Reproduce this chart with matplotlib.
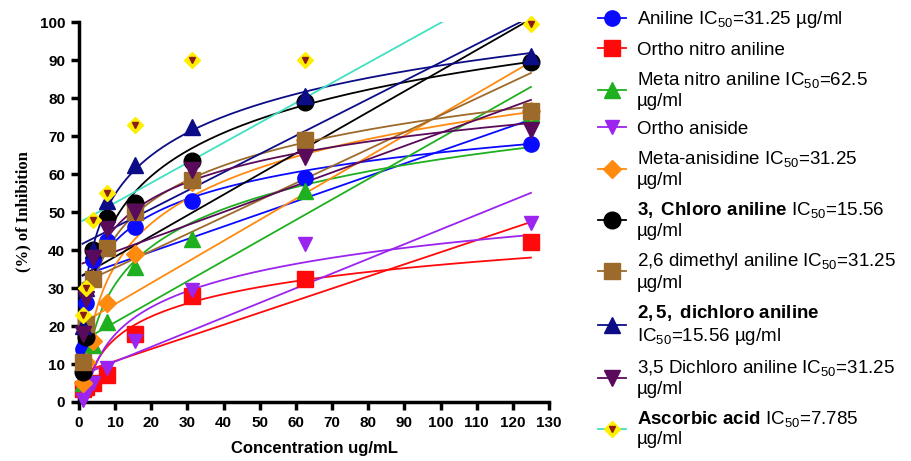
import numpy as np
import matplotlib
matplotlib.use("Agg")
import matplotlib.pyplot as plt
from matplotlib.lines import Line2D

plt.rcParams['font.family'] = 'Liberation Sans'
plt.rcParams['mathtext.fontset'] = 'custom'
plt.rcParams['mathtext.rm'] = 'Liberation Sans'
plt.rcParams['mathtext.bf'] = 'Liberation Sans:bold'
plt.rcParams['mathtext.it'] = 'Liberation Sans:italic'

# concentrations (ug/mL), two-fold dilution series
conc = [0.98, 1.95, 3.9, 7.8, 15.6, 31.25, 62.5, 125]

# % inhibition
aniline = [14, 26, 37.5, 42.5, 46, 53, 59, 68]
ortho_nitro = [3.5, 4, 5, 7, 18, 28, 32.5, 42]
meta_nitro = [5, 8, 15, 21, 35.5, 43, 55.5, 76]
ortho_aniside = [0.5, 2, 5, 9, 16, 29.5, 41.5, 47]
meta_anisidine = [5, 10.5, 16, 26, 39, 58, 69, 76.5]
chloro3 = [8, 17, 40, 48.5, 52.5, 63.5, 79, 89.5]
dimethyl26 = [10.5, 20.5, 32.5, 40.5, 50, 58.5, 69, 76.5]
dichloro25 = [20, 30, 40, 53, 62.5, 72.5, 80.5, 91]
dichloro35 = [18, 27, 38, 45.5, 50, 61, 64.5, 71.5]
ascorbic = [23, 30, 48, 55, 73, 90, 90, 99.5]

labels = [
    "Aniline IC$_{50}$=31.25 µg/ml",
    "Ortho nitro aniline",
    "Meta nitro aniline IC$_{50}$=62.5\nµg/ml",
    "Ortho aniside",
    "Meta-anisidine IC$_{50}$=31.25\nµg/ml",
    r"$\mathbf{3,\ Chloro\ aniline}$ IC$_{50}$=15.56" + "\nµg/ml",
    "2,6 dimethyl aniline IC$_{50}$=31.25\nµg/ml",
    r"$\mathbf{2,5,\ dichloro\ aniline}$" + "\nIC$_{50}$=15.56 µg/ml",
    "3,5 Dichloro aniline IC$_{50}$=31.25\nµg/ml",
    r"$\mathbf{Ascorbic\ acid}$ IC$_{50}$=7.785" + "\nµg/ml",
]

series = [aniline, ortho_nitro, meta_nitro, ortho_aniside, meta_anisidine,
          chloro3, dimethyl26, dichloro25, dichloro35]
colors = ['#0a0aff', '#ff0a0a', '#1fb01f', '#9b24ef', '#ff8a10',
          '#000000', '#9c6a2a', '#0c0c86', '#5a0a5a']
markers = ['o', 's', '^', 'v', 'D', 'o', 's', '^', 'v']
msizes = [11, 11, 11, 10, 9, 12, 12, 12, 11]

fig = plt.figure(figsize=(9.12, 4.61), dpi=100)
ax = fig.add_axes([0.0866, 0.128, 0.5154, 0.824])

x = np.array(conc)
for y, c, m, s in zip(series, colors, markers, msizes):
    y = np.array(y)
    # linear regression line
    p = np.polyfit(x, y, 1)
    xl = np.array([x[0], x[-1]])
    ax.plot(xl, np.polyval(p, xl), color=c, lw=1.3, zorder=2)
    # semi-log fit curve
    q = np.polyfit(np.log(x), y, 1)
    xc = np.geomspace(x[0], x[-1], 200)
    ax.plot(xc, np.polyval(q, np.log(xc)), color=c, lw=1.3, zorder=2)
    ax.plot(x, y, ls='none', marker=m, color=c, markersize=s, zorder=4, clip_on=False)

# ascorbic acid: linear regression only
ya = np.array(ascorbic)
p = np.polyfit(x, ya, 1)
xl = np.array([x[0], x[-1]])
ax.plot(xl, np.polyval(p, xl), color='#40e0c0', lw=1.3, zorder=2)
ax.plot(x, ya, ls='none', marker='D', color='#ffee00', markersize=8, zorder=5, clip_on=False)
ax.plot(x, ya, ls='none', marker='v', color='#8b1a1a', markersize=4, zorder=6, clip_on=False)

ax.set_xlim(0, 130)
ax.set_ylim(0, 100)
ax.set_xticks(np.arange(0, 131, 10))
ax.set_yticks(np.arange(0, 101, 10))
for side in ['top', 'right']:
    ax.spines[side].set_visible(False)
for side in ['left', 'bottom']:
    ax.spines[side].set_linewidth(2.5)
ax.tick_params(width=2.5, length=6, labelsize=11, pad=4)
for lab in ax.get_xticklabels() + ax.get_yticklabels():
    lab.set_fontweight('bold')
ax.set_xlabel("Concentration ug/mL", fontsize=12, fontweight='bold', labelpad=8)
ax.set_ylabel("(%) of Inhibition", fontsize=12, fontweight='bold',
              family='Liberation Serif', labelpad=6)

handles = []
for c, m, s in zip(colors, markers, msizes):
    handles.append(Line2D([], [], color=c, marker=m, markersize=s, lw=1.3))
handles.append((Line2D([], [], color='#40e0c0', marker='D', markerfacecolor='#ffee00',
                       markeredgecolor='#ffee00', markersize=8, lw=1.3),
                Line2D([], [], ls='none', marker='v', color='#8b1a1a', markersize=4)))

fig.legend(handles, labels, loc='upper left', bbox_to_anchor=(0.645, 1.0),
           frameon=False, fontsize=13.5, handlelength=1.5, handletextpad=0.6,
           labelspacing=0.6, borderaxespad=0.1)

fig.savefig("out.png", dpi=100)
